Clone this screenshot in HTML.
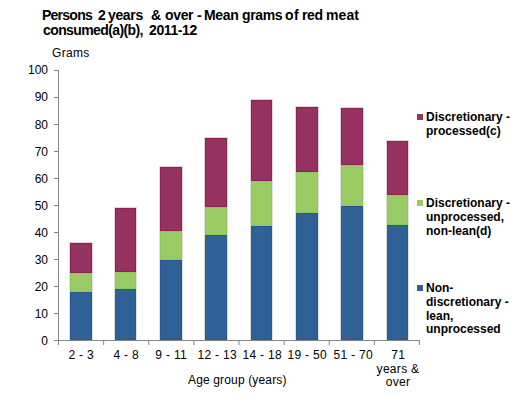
<!DOCTYPE html>
<html><head><meta charset="utf-8"><style>
html,body{margin:0;padding:0;background:#fff;}
body{width:528px;height:415px;position:relative;overflow:hidden;font-family:"Liberation Sans",sans-serif;color:#000;}
body>div{position:absolute;}
svg{position:absolute;}
.t{white-space:nowrap;}
</style></head><body>
<div style="left:69px;top:242px;width:24px;height:98px;background:rgba(150,50,95,0.22)"></div>
<div style="left:69px;top:273px;width:24px;height:67px;background:#fff"></div>
<div style="left:69px;top:273px;width:24px;height:67px;background:rgba(60,100,60,0.18)"></div>
<div style="left:70px;top:243px;width:22px;height:30px;background:#96325f;box-shadow:inset 0 0 0 1px #8a2254;"></div>
<div style="left:70px;top:273px;width:22px;height:19px;background:#9bcb64;box-shadow:inset 0 0 0 1px #8fc85a;"></div>
<div style="left:70px;top:292px;width:22px;height:48px;background:#2f6096;box-shadow:inset 0 0 0 1px #2a5890;"></div>
<div style="left:114px;top:207px;width:23px;height:133px;background:rgba(150,50,95,0.22)"></div>
<div style="left:114px;top:272px;width:23px;height:68px;background:#fff"></div>
<div style="left:114px;top:272px;width:23px;height:68px;background:rgba(60,100,60,0.18)"></div>
<div style="left:115px;top:208px;width:21px;height:64px;background:#96325f;box-shadow:inset 0 0 0 1px #8a2254;"></div>
<div style="left:115px;top:272px;width:21px;height:17px;background:#9bcb64;box-shadow:inset 0 0 0 1px #8fc85a;"></div>
<div style="left:115px;top:289px;width:21px;height:51px;background:#2f6096;box-shadow:inset 0 0 0 1px #2a5890;"></div>
<div style="left:159px;top:166px;width:24px;height:174px;background:rgba(150,50,95,0.22)"></div>
<div style="left:159px;top:231px;width:24px;height:109px;background:#fff"></div>
<div style="left:159px;top:231px;width:24px;height:109px;background:rgba(60,100,60,0.18)"></div>
<div style="left:160px;top:167px;width:22px;height:64px;background:#96325f;box-shadow:inset 0 0 0 1px #8a2254;"></div>
<div style="left:160px;top:231px;width:22px;height:29px;background:#9bcb64;box-shadow:inset 0 0 0 1px #8fc85a;"></div>
<div style="left:160px;top:260px;width:22px;height:80px;background:#2f6096;box-shadow:inset 0 0 0 1px #2a5890;"></div>
<div style="left:204px;top:137px;width:24px;height:203px;background:rgba(150,50,95,0.22)"></div>
<div style="left:204px;top:207px;width:24px;height:133px;background:#fff"></div>
<div style="left:204px;top:207px;width:24px;height:133px;background:rgba(60,100,60,0.18)"></div>
<div style="left:205px;top:138px;width:22px;height:69px;background:#96325f;box-shadow:inset 0 0 0 1px #8a2254;"></div>
<div style="left:205px;top:207px;width:22px;height:28px;background:#9bcb64;box-shadow:inset 0 0 0 1px #8fc85a;"></div>
<div style="left:205px;top:235px;width:22px;height:105px;background:#2f6096;box-shadow:inset 0 0 0 1px #2a5890;"></div>
<div style="left:250px;top:99px;width:23px;height:241px;background:rgba(150,50,95,0.22)"></div>
<div style="left:250px;top:181px;width:23px;height:159px;background:#fff"></div>
<div style="left:250px;top:181px;width:23px;height:159px;background:rgba(60,100,60,0.18)"></div>
<div style="left:251px;top:100px;width:21px;height:81px;background:#96325f;box-shadow:inset 0 0 0 1px #8a2254;"></div>
<div style="left:251px;top:181px;width:21px;height:45px;background:#9bcb64;box-shadow:inset 0 0 0 1px #8fc85a;"></div>
<div style="left:251px;top:226px;width:21px;height:114px;background:#2f6096;box-shadow:inset 0 0 0 1px #2a5890;"></div>
<div style="left:295px;top:106px;width:24px;height:234px;background:rgba(150,50,95,0.22)"></div>
<div style="left:295px;top:172px;width:24px;height:168px;background:#fff"></div>
<div style="left:295px;top:172px;width:24px;height:168px;background:rgba(60,100,60,0.18)"></div>
<div style="left:296px;top:107px;width:22px;height:65px;background:#96325f;box-shadow:inset 0 0 0 1px #8a2254;"></div>
<div style="left:296px;top:172px;width:22px;height:41px;background:#9bcb64;box-shadow:inset 0 0 0 1px #8fc85a;"></div>
<div style="left:296px;top:213px;width:22px;height:127px;background:#2f6096;box-shadow:inset 0 0 0 1px #2a5890;"></div>
<div style="left:340px;top:107px;width:24px;height:233px;background:rgba(150,50,95,0.22)"></div>
<div style="left:340px;top:165px;width:24px;height:175px;background:#fff"></div>
<div style="left:340px;top:165px;width:24px;height:175px;background:rgba(60,100,60,0.18)"></div>
<div style="left:341px;top:108px;width:22px;height:57px;background:#96325f;box-shadow:inset 0 0 0 1px #8a2254;"></div>
<div style="left:341px;top:165px;width:22px;height:41px;background:#9bcb64;box-shadow:inset 0 0 0 1px #8fc85a;"></div>
<div style="left:341px;top:206px;width:22px;height:134px;background:#2f6096;box-shadow:inset 0 0 0 1px #2a5890;"></div>
<div style="left:386px;top:140px;width:23px;height:200px;background:rgba(150,50,95,0.22)"></div>
<div style="left:386px;top:195px;width:23px;height:145px;background:#fff"></div>
<div style="left:386px;top:195px;width:23px;height:145px;background:rgba(60,100,60,0.18)"></div>
<div style="left:387px;top:141px;width:21px;height:54px;background:#96325f;box-shadow:inset 0 0 0 1px #8a2254;"></div>
<div style="left:387px;top:195px;width:21px;height:30px;background:#9bcb64;box-shadow:inset 0 0 0 1px #8fc85a;"></div>
<div style="left:387px;top:225px;width:21px;height:115px;background:#2f6096;box-shadow:inset 0 0 0 1px #2a5890;"></div>
<svg style="position:absolute;left:0;top:0" width="528" height="415"><path d="M58.5 70V345 M54 340.5H420 M54 70.5H58 M54 97.5H58 M54 124.5H58 M54 151.5H58 M54 178.5H58 M54 205.5H58 M54 232.5H58 M54 259.5H58 M54 286.5H58 M54 313.5H58 M54 340.5H58 M103.625 341V345 M148.750 341V345 M193.875 341V345 M239.000 341V345 M284.125 341V345 M329.250 341V345 M374.375 341V345 M419.500 341V345" stroke="#868686" stroke-width="1" fill="none"/></svg>
<div class="t" style="left:42px;top:8px;font-size:14px;font-weight:700;line-height:15px;letter-spacing:-0.75px;">Persons</div>
<div class="t" style="left:98px;top:8px;font-size:14px;font-weight:700;line-height:15px;letter-spacing:-0.35px;">2</div>
<div class="t" style="left:108px;top:8px;font-size:14px;font-weight:700;line-height:15px;letter-spacing:-0.35px;">years</div>
<div class="t" style="left:151px;top:8px;font-size:14px;font-weight:700;line-height:15px;letter-spacing:-0.35px;">&amp;</div>
<div class="t" style="left:165px;top:8px;font-size:14px;font-weight:700;line-height:15px;letter-spacing:-0.35px;">over</div>
<div class="t" style="left:197px;top:8px;font-size:14px;font-weight:700;line-height:15px;letter-spacing:-0.35px;">-</div>
<div class="t" style="left:204px;top:8px;font-size:14px;font-weight:700;line-height:15px;letter-spacing:-0.35px;">Mean</div>
<div class="t" style="left:242px;top:8px;font-size:14px;font-weight:700;line-height:15px;letter-spacing:-0.35px;">grams</div>
<div class="t" style="left:285px;top:8px;font-size:14px;font-weight:700;line-height:15px;letter-spacing:0.5px;">of</div>
<div class="t" style="left:302px;top:8px;font-size:14px;font-weight:700;line-height:15px;letter-spacing:-0.35px;">red</div>
<div class="t" style="left:326px;top:8px;font-size:14px;font-weight:700;line-height:15px;letter-spacing:0.1px;">meat</div>
<div class="t" style="left:43px;top:23px;font-size:14px;font-weight:700;line-height:15px;letter-spacing:-0.6px;">consumed(a)(b),</div>
<div class="t" style="left:149px;top:23px;font-size:14px;font-weight:700;line-height:15px;letter-spacing:-0.4px;">2011-12</div>
<div class="t" style="left:52px;top:46px;font-size:12px;font-weight:400;letter-spacing:0.3px;">Grams</div>
<div class="t" style="left:0px;top:63.3px;font-size:12px;font-weight:400;width:48px;text-align:right;line-height:14px;">100</div>
<div class="t" style="left:0px;top:90.4px;font-size:12px;font-weight:400;width:48px;text-align:right;line-height:14px;">90</div>
<div class="t" style="left:0px;top:117.5px;font-size:12px;font-weight:400;width:48px;text-align:right;line-height:14px;">80</div>
<div class="t" style="left:0px;top:144.60000000000002px;font-size:12px;font-weight:400;width:48px;text-align:right;line-height:14px;">70</div>
<div class="t" style="left:0px;top:171.7px;font-size:12px;font-weight:400;width:48px;text-align:right;line-height:14px;">60</div>
<div class="t" style="left:0px;top:198.8px;font-size:12px;font-weight:400;width:48px;text-align:right;line-height:14px;">50</div>
<div class="t" style="left:0px;top:225.90000000000003px;font-size:12px;font-weight:400;width:48px;text-align:right;line-height:14px;">40</div>
<div class="t" style="left:0px;top:253.0px;font-size:12px;font-weight:400;width:48px;text-align:right;line-height:14px;">30</div>
<div class="t" style="left:0px;top:280.1px;font-size:12px;font-weight:400;width:48px;text-align:right;line-height:14px;">20</div>
<div class="t" style="left:0px;top:307.2px;font-size:12px;font-weight:400;width:48px;text-align:right;line-height:14px;">10</div>
<div class="t" style="left:0px;top:334.3px;font-size:12px;font-weight:400;width:48px;text-align:right;line-height:14px;">0</div>
<div class="t" style="left:51px;top:349px;font-size:12px;font-weight:400;width:60px;text-align:center;line-height:13.7px;letter-spacing:0.3px;text-indent:0.3px;">2 - 3</div>
<div class="t" style="left:96px;top:349px;font-size:12px;font-weight:400;width:60px;text-align:center;line-height:13.7px;letter-spacing:0.3px;text-indent:0.3px;">4 - 8</div>
<div class="t" style="left:141px;top:349px;font-size:12px;font-weight:400;width:60px;text-align:center;line-height:13.7px;letter-spacing:0.3px;text-indent:0.3px;">9 - 11</div>
<div class="t" style="left:187px;top:349px;font-size:12px;font-weight:400;width:60px;text-align:center;line-height:13.7px;letter-spacing:0.3px;text-indent:0.3px;">12 - 13</div>
<div class="t" style="left:232px;top:349px;font-size:12px;font-weight:400;width:60px;text-align:center;line-height:13.7px;letter-spacing:0.3px;text-indent:0.3px;">14 - 18</div>
<div class="t" style="left:277px;top:349px;font-size:12px;font-weight:400;width:60px;text-align:center;line-height:13.7px;letter-spacing:0.3px;text-indent:0.3px;">19 - 50</div>
<div class="t" style="left:323px;top:349px;font-size:12px;font-weight:400;width:60px;text-align:center;line-height:13.7px;letter-spacing:0.3px;text-indent:0.3px;">51 - 70</div>
<div class="t" style="left:368px;top:349px;font-size:12px;font-weight:400;width:60px;text-align:center;line-height:13.7px;letter-spacing:0.3px;text-indent:0.3px;">71<br>years &amp;<br>over</div>
<div class="t" style="left:188px;top:373px;font-size:12px;font-weight:400;letter-spacing:0.15px;">Age group (years)</div>
<div style="left:417px;top:114px;width:6px;height:6px;background:#96325f;"></div>
<div class="t" style="left:426px;top:111px;font-size:12px;font-weight:700;line-height:13.75px;">Discretionary -<br>processed(c)</div>
<div style="left:417px;top:200px;width:6px;height:6px;background:#9bcb64;"></div>
<div class="t" style="left:426px;top:197px;font-size:12px;font-weight:700;line-height:13.75px;">Discretionary -<br>unprocessed,<br>non-lean(d)</div>
<div style="left:417px;top:285px;width:6px;height:6px;background:#2f6096;"></div>
<div class="t" style="left:426px;top:282px;font-size:12px;font-weight:700;line-height:13.75px;">Non-<br>discretionary -<br>lean,<br>unprocessed</div>
</body></html>
